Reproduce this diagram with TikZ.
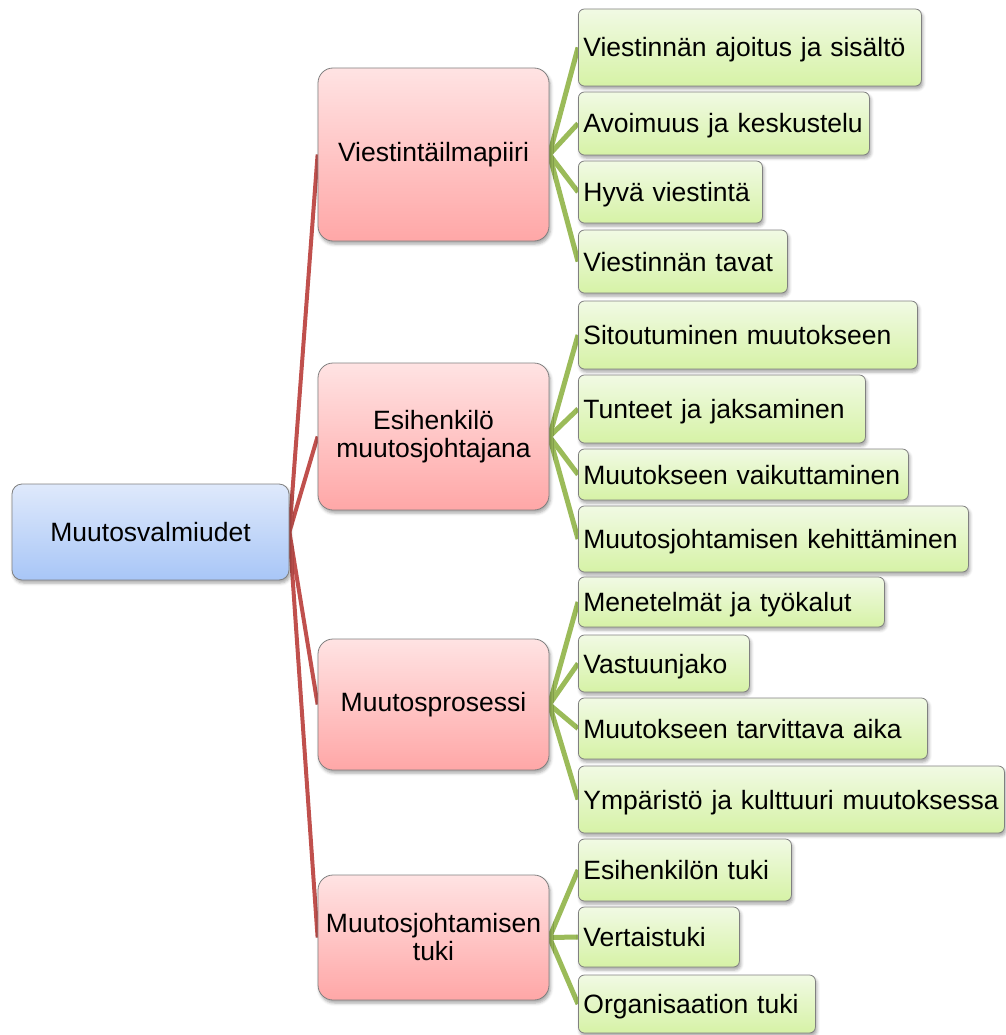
\documentclass[tikz,border=0pt]{standalone}
\usepackage{fontspec}
\setmainfont{Liberation Sans}
\usetikzlibrary{backgrounds,shadows.blur}
\definecolor{boxborder}{HTML}{808080}
\definecolor{leaftop}{HTML}{F1FAE4}
\definecolor{leafbot}{HTML}{D6F2A6}
\definecolor{redtop}{HTML}{FFE3E3}
\definecolor{redbot}{HTML}{FFA7A7}
\definecolor{bluetop}{HTML}{DFE9FB}
\definecolor{bluebot}{HTML}{A8C6F7}
\definecolor{redline}{HTML}{C0504D}
\definecolor{greenline}{HTML}{9BBB59}
\begin{document}
\begin{tikzpicture}[x=1pt,y=-1pt,
  box/.style={draw=boxborder, line width=0.8pt,
    blur shadow={shadow xshift=1.5pt, shadow yshift=-3pt, shadow blur radius=3pt, shadow opacity=35},
    font=\fontsize{26.5}{28}\selectfont, text=black, inner sep=0pt},
  leafbox/.style={box, rounded corners=6pt, top color=leaftop, bottom color=leafbot,
    anchor=west, align=left, inner xsep=5pt, text height=19pt, text depth=0pt},
  midbox/.style={box, rounded corners=15pt, top color=redtop, bottom color=redbot,
    align=center, minimum width=231pt},
  rootbox/.style={box, rounded corners=10pt, top color=bluetop, bottom color=bluebot,
    minimum width=277pt, minimum height=96pt},
  redlink/.style={draw=redline, line width=4pt},
  greenlink/.style={draw=greenline, line width=5pt}]
\useasboundingbox (0,0) rectangle (1005,1035);

% root
\node[rootbox] (root) at (150.5,532) {Muutosvalmiudet};

% middle level
\node[midbox, minimum height=173pt] (m1) at (433.5,154.5) {Viestintäilmapiiri};
\node[midbox, minimum height=147pt] (m2) at (433.5,436.5) {Esihenkilö\\muutosjohtajana};
\node[midbox, minimum height=131pt] (m3) at (433.5,704.5) {Muutosprosessi};
\node[midbox, minimum height=125pt] (m4) at (433.5,937.5) {Muutosjohtamisen\\tuki};

% leaves
\node[leafbox, minimum width=343pt, text width=333pt, minimum height=77pt] (l1) at (578,47.5) {Viestinnän ajoitus ja sisältö};
\node[leafbox, minimum width=291pt, text width=281pt, minimum height=63pt] (l2) at (578,123.5) {Avoimuus ja keskustelu};
\node[leafbox, minimum width=184pt, text width=174pt, minimum height=62pt] (l3) at (578,192) {Hyvä viestintä};
\node[leafbox, minimum width=209pt, text width=199pt, minimum height=63pt] (l4) at (578,261.5) {Viestinnän tavat};

\node[leafbox, minimum width=339pt, text width=329pt, minimum height=68pt] (l5) at (578,335) {Sitoutuminen muutokseen};
\node[leafbox, minimum width=287pt, text width=277pt, minimum height=68pt] (l6) at (578,409) {Tunteet ja jaksaminen};
\node[leafbox, minimum width=330pt, text width=320pt, minimum height=51pt] (l7) at (578,474.5) {Muutokseen vaikuttaminen};
\node[leafbox, minimum width=390pt, text width=380pt, minimum height=66pt] (l8) at (578,539) {Muutosjohtamisen kehittäminen};

\node[leafbox, minimum width=306pt, text width=296pt, minimum height=50pt] (l9) at (578,602) {Menetelmät ja työkalut};
\node[leafbox, minimum width=171pt, text width=161pt, minimum height=57pt] (l10) at (578,663.5) {Vastuunjako};
\node[leafbox, minimum width=349pt, text width=339pt, minimum height=61pt] (l11) at (578,728.5) {Muutokseen tarvittava aika};
\node[leafbox, minimum width=426pt, text width=416pt, minimum height=67pt] (l12) at (578,799.5) {\mbox{Ympäristö ja kulttuuri muutoksessa}};

\node[leafbox, minimum width=213pt, text width=203pt, minimum height=62pt] (l13) at (578,870) {Esihenkilön tuki};
\node[leafbox, minimum width=161pt, text width=151pt, minimum height=60pt] (l14) at (578,937) {Vertaistuki};
\node[leafbox, minimum width=237pt, text width=227pt, minimum height=58pt] (l15) at (578,1004) {Organisaation tuki};

% connectors
\begin{pgfonlayer}{background}
  \foreach \m in {m1,m2,m3,m4}
    \draw[redlink] (root.east) -- (\m.west);
  \foreach \l in {l1,l2,l3,l4}
    \draw[greenlink] (m1.east) -- (\l.west);
  \foreach \l in {l5,l6,l7,l8}
    \draw[greenlink] (m2.east) -- (\l.west);
  \foreach \l in {l9,l10,l11,l12}
    \draw[greenlink] (m3.east) -- (\l.west);
  \foreach \l in {l13,l14,l15}
    \draw[greenlink] (m4.east) -- (\l.west);
\end{pgfonlayer}
\end{tikzpicture}
\end{document}
